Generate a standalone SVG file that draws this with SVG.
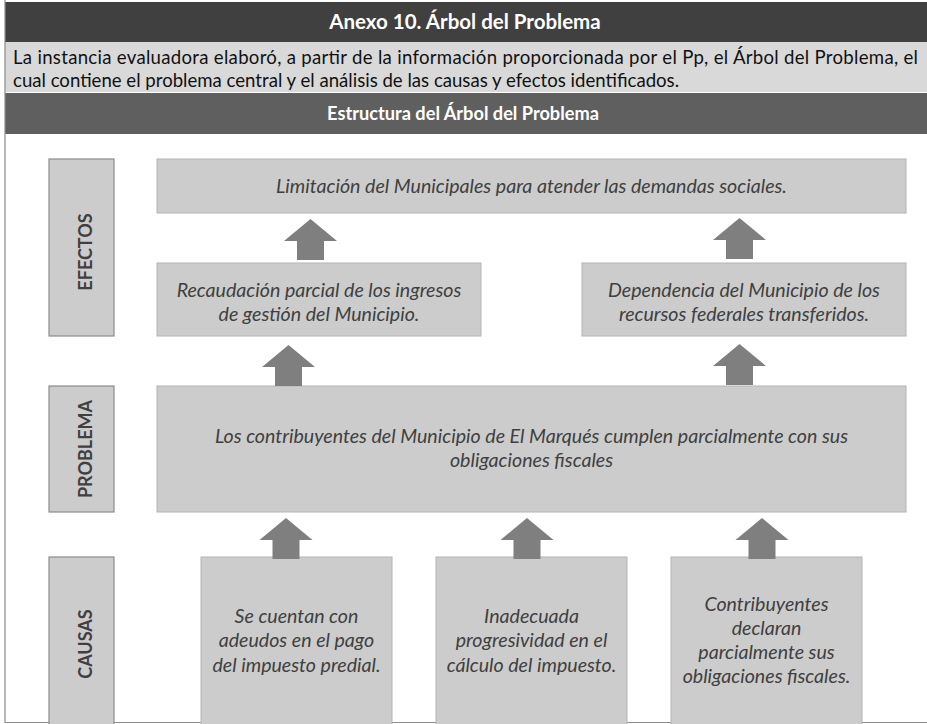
<svg xmlns="http://www.w3.org/2000/svg" width="927" height="724" viewBox="0 0 927 724">
<style>
.hdr{fill:#404040}
.band{fill:#d9d9d9}
.sub{fill:#5f5f5f}
.title{font-family:Lato,"Liberation Sans",sans-serif;font-weight:bold;fill:#ffffff;text-anchor:middle}
.t1{font-size:20.5px}
.t2{font-size:18.2px}
.para{font-family:Lato,"Liberation Sans",sans-serif;font-size:18.6px;fill:#111111}
.lblbox{fill:#cccccc;stroke:#8c8c8c;stroke-width:1.2}
.box{fill:#cccccc;stroke:#b4b4b4;stroke-width:1}
.lbl{font-family:Lato,"Liberation Sans",sans-serif;font-weight:bold;font-size:18px;fill:#404040;text-anchor:middle}
.txt{font-family:Lato,"Liberation Sans",sans-serif;font-style:italic;font-size:19.6px;fill:#404040;text-anchor:middle}
.arrow{fill:#7f7f7f}
.frame{fill:none;stroke:#8c8c8c;stroke-width:1.2}
</style>
<defs>
<path id="up" d="M0,0 L26.5,22 L13.5,22 L13.5,41 L-13.5,41 L-13.5,22 L-26.5,22 Z"/>
</defs>
<rect x="0" y="0" width="927" height="724" fill="#ffffff"/>
<g id="header">
<rect class="hdr" x="5" y="2" width="922" height="40"/>
<text class="title t1" x="465" y="29">Anexo 10. Árbol del Problema</text>
<rect class="band" x="5" y="42" width="922" height="50"/>
<text class="para" x="13" y="64" textLength="905">La instancia evaluadora elaboró, a partir de la información proporcionada por el Pp, el Árbol del Problema, el</text>
<text class="para" x="13" y="87">cual contiene el problema central y el análisis de las causas y efectos identificados.</text>
<rect class="sub" x="5" y="93" width="922" height="41"/>
<text class="title t2" x="463" y="120">Estructura del Árbol del Problema</text>
</g>
<path class="frame" d="M5,0 V722.5 H927"/>
<g id="lbl-efectos">
<rect class="lblbox" x="49" y="159" width="65" height="177"/>
<text class="lbl" transform="translate(92,252) rotate(-90)" x="0" y="0">EFECTOS</text>
</g>
<g id="lbl-problema">
<rect class="lblbox" x="49" y="386" width="65" height="126"/>
<text class="lbl" transform="translate(92,449) rotate(-90)" x="0" y="0">PROBLEMA</text>
</g>
<g id="lbl-causas">
<rect class="lblbox" x="49" y="557" width="65" height="180"/>
<text class="lbl" transform="translate(92,644) rotate(-90)" x="0" y="0">CAUSAS</text>
</g>
<g id="efecto-final">
<rect class="box" x="157" y="159" width="749" height="54"/>
<text class="txt" x="531.5" y="193">Limitación del Municipales para atender las demandas sociales.</text>
</g>
<g id="efecto-recaudacion">
<rect class="box" x="157" y="263" width="324" height="73"/>
<text class="txt" x="319" y="297">Recaudación parcial de los ingresos</text>
<text class="txt" x="319" y="321">de gestión del Municipio.</text>
</g>
<g id="efecto-dependencia">
<rect class="box" x="582" y="263" width="324" height="73"/>
<text class="txt" x="744" y="297">Dependencia del Municipio de los</text>
<text class="txt" x="744" y="321">recursos federales transferidos.</text>
</g>
<g id="problema">
<rect class="box" x="157" y="386" width="749" height="126"/>
<text class="txt" x="531.5" y="443">Los contribuyentes del Municipio de El Marqués cumplen parcialmente con sus</text>
<text class="txt" x="531.5" y="467">obligaciones fiscales</text>
</g>
<g id="causa-1">
<rect class="box" x="201" y="557" width="191" height="180"/>
<text class="txt" x="296.5" y="623">Se cuentan con</text>
<text class="txt" x="296.5" y="647">adeudos en el pago</text>
<text class="txt" x="296.5" y="672">del impuesto predial.</text>
</g>
<g id="causa-2">
<rect class="box" x="436" y="557" width="191" height="180"/>
<text class="txt" x="531.5" y="623">Inadecuada</text>
<text class="txt" x="531.5" y="647">progresividad en el</text>
<text class="txt" x="531.5" y="672">cálculo del impuesto.</text>
</g>
<g id="causa-3">
<rect class="box" x="671" y="557" width="191" height="180"/>
<text class="txt" x="766.5" y="611">Contribuyentes</text>
<text class="txt" x="766.5" y="635">declaran</text>
<text class="txt" x="766.5" y="659">parcialmente sus</text>
<text class="txt" x="766.5" y="683">obligaciones fiscales.</text>
</g>
<g id="connectors" class="arrow">
<use href="#up" x="310.5" y="219"/>
<use href="#up" x="739.5" y="218"/>
<use href="#up" x="288.5" y="345"/>
<use href="#up" x="739.5" y="344"/>
<use href="#up" x="286" y="518"/>
<use href="#up" x="527" y="518"/>
<use href="#up" x="762" y="518"/>
</g>
</svg>
